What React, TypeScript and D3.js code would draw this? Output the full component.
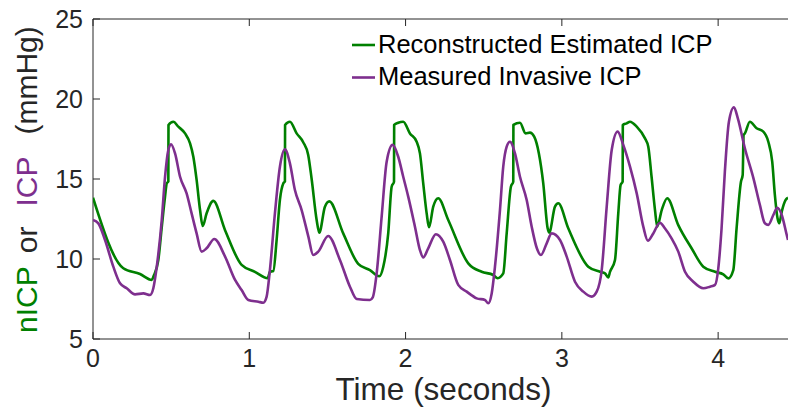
import React from "react";
import * as d3 from "d3";

// ---- Data (time in seconds, pressure in mmHg) ----
const estTime = [0.0, 0.194, 0.301, 0.376, 0.388, 0.418, 0.44, 0.461, 0.472, 0.482, 0.483, 0.514, 0.546, 0.589, 0.621, 0.642, 0.663, 0.685, 0.702, 0.727, 0.77, 0.845, 0.951, 1.036, 1.118, 1.132, 1.154, 1.175, 1.196, 1.218, 1.228, 1.229, 1.26, 1.303, 1.345, 1.377, 1.399, 1.431, 1.448, 1.484, 1.512, 1.601, 1.697, 1.772, 1.832, 1.857, 1.889, 1.911, 1.926, 1.927, 1.953, 1.985, 2.028, 2.071, 2.092, 2.113, 2.135, 2.15, 2.177, 2.209, 2.273, 2.401, 2.487, 2.561, 2.589, 2.625, 2.647, 2.674, 2.689, 2.69, 2.732, 2.768, 2.796, 2.823, 2.853, 2.881, 2.909, 2.919, 2.956, 2.977, 3.041, 3.169, 3.244, 3.276, 3.297, 3.308, 3.34, 3.361, 3.376, 3.389, 3.39, 3.415, 3.436, 3.479, 3.532, 3.553, 3.574, 3.596, 3.61, 3.639, 3.674, 3.745, 3.83, 3.905, 3.98, 4.033, 4.065, 4.097, 4.118, 4.146, 4.157, 4.163, 4.171, 4.203, 4.246, 4.289, 4.321, 4.346, 4.363, 4.38, 4.391, 4.407, 4.432, 4.447];
const estValue = [13.83, 9.42, 9.06, 8.69, 8.94, 9.94, 12.0, 13.9, 14.73, 14.84, 18.38, 18.58, 18.27, 17.85, 17.23, 16.39, 14.94, 13.06, 12.06, 12.86, 13.63, 11.8, 9.63, 9.2, 8.8, 9.2, 9.25, 11.2, 13.7, 14.73, 14.84, 18.38, 18.58, 17.85, 17.3, 16.5, 15.0, 12.44, 11.65, 13.27, 13.6, 11.6, 9.7, 9.3, 8.92, 9.5, 11.6, 14.52, 14.83, 18.38, 18.52, 18.58, 17.85, 17.33, 16.6, 14.73, 12.85, 11.98, 13.27, 13.8, 12.44, 9.73, 9.2, 9.0, 8.8, 9.1, 11.6, 14.52, 14.83, 18.38, 18.52, 17.85, 17.9, 17.65, 16.6, 14.73, 11.92, 11.65, 13.27, 13.48, 11.92, 9.52, 9.2, 9.1, 8.85, 9.2, 9.94, 12.85, 14.63, 14.83, 18.38, 18.48, 18.58, 18.27, 17.54, 17.02, 15.14, 13.06, 12.02, 13.06, 13.8, 12.12, 10.67, 9.52, 9.2, 9.04, 8.79, 9.31, 11.92, 14.83, 15.25, 17.75, 17.85, 18.58, 18.17, 17.96, 17.33, 16.08, 14.0, 12.54, 12.23, 12.96, 13.69, 13.83];

const measTime = [0.0, 0.034, 0.077, 0.13, 0.173, 0.216, 0.269, 0.322, 0.365, 0.386, 0.408, 0.44, 0.461, 0.482, 0.499, 0.525, 0.557, 0.599, 0.631, 0.663, 0.695, 0.727, 0.776, 0.845, 0.909, 0.951, 0.994, 1.058, 1.09, 1.111, 1.132, 1.164, 1.196, 1.228, 1.26, 1.292, 1.335, 1.378, 1.409, 1.441, 1.505, 1.58, 1.644, 1.687, 1.772, 1.79, 1.815, 1.847, 1.879, 1.917, 1.953, 1.985, 2.017, 2.06, 2.092, 2.113, 2.145, 2.194, 2.241, 2.284, 2.337, 2.391, 2.455, 2.508, 2.529, 2.551, 2.572, 2.604, 2.625, 2.647, 2.668, 2.7, 2.732, 2.775, 2.807, 2.84, 2.866, 2.903, 2.935, 2.988, 3.031, 3.084, 3.137, 3.191, 3.223, 3.255, 3.287, 3.319, 3.357, 3.393, 3.436, 3.479, 3.521, 3.55, 3.585, 3.627, 3.659, 3.702, 3.745, 3.788, 3.841, 3.905, 3.948, 3.98, 4.001, 4.022, 4.043, 4.069, 4.101, 4.126, 4.171, 4.226, 4.267, 4.299, 4.321, 4.353, 4.378, 4.407, 4.439, 4.447];
const measValue = [12.44, 12.23, 11.19, 9.52, 8.48, 8.17, 7.79, 7.85, 7.75, 8.17, 9.52, 12.44, 15.14, 16.81, 17.17, 16.6, 15.14, 14.1, 12.85, 11.6, 10.46, 10.67, 11.25, 10.15, 8.69, 8.06, 7.44, 7.33, 7.27, 7.65, 9.31, 12.85, 15.77, 16.85, 15.98, 14.31, 13.06, 11.4, 10.25, 10.46, 11.44, 9.94, 8.27, 7.5, 7.44, 7.6, 9.1, 12.65, 16.08, 17.13, 16.39, 15.14, 13.9, 12.02, 10.56, 10.1, 10.67, 11.55, 11.08, 9.94, 8.38, 7.96, 7.54, 7.44, 7.23, 7.85, 9.52, 13.06, 15.77, 17.02, 17.33, 16.6, 15.14, 13.69, 12.02, 10.67, 10.25, 10.98, 11.6, 11.19, 10.15, 8.58, 7.96, 7.65, 7.96, 9.31, 13.27, 16.81, 17.96, 17.13, 15.77, 14.1, 12.02, 11.15, 11.6, 12.27, 11.92, 11.29, 10.46, 9.2, 8.58, 8.17, 8.27, 8.38, 9.42, 11.92, 15.46, 18.58, 19.48, 18.79, 16.92, 15.04, 13.38, 12.23, 12.13, 12.75, 13.2, 12.75, 11.5, 11.19];

const xTicks = [0, 1, 2, 3, 4];
const yTicks = [5, 10, 15, 20, 25];
const legendLabels = ["Reconstructed Estimated ICP", "Measured Invasive ICP"];

const W = 788;
const H = 411;
const GREEN = "#008000";
const PURPLE = "#7E2F8E";
const AXIS = "#262626";
const FONT = "'Liberation Sans', Arial, Helvetica, sans-serif";

export default function App() {
  const left = 93, right = 788, top = 19, bottom = 339;
  const x = d3.scaleLinear().domain([0, 4.447]).range([left, right]);
  const y = d3.scaleLinear().domain([5, 25]).range([bottom, top]);

  const line = d3
    .line<[number, number]>()
    .x((d) => x(d[0]))
    .y((d) => y(d[1]))
    .curve(d3.curveMonotoneX);

  const est: [number, number][] = estTime.map((t, i) => [t, estValue[i]]);
  const meas: [number, number][] = measTime.map((t, i) => [t, measValue[i]]);
  const tickLen = 7;

  return (
    <svg
      width={W}
      height={H}
      style={{ position: "absolute", left: 0, top: 0, background: "#fff" }}
      fontFamily={FONT}
    >
      <defs>
        <clipPath id="plotclip">
          <rect x={left} y={top - 2} width={right - left} height={bottom - top + 4} />
        </clipPath>
      </defs>
      {/* axes frame */}
      <line x1={left} x2={right} y1={bottom} y2={bottom} stroke={AXIS} strokeWidth={1} />
      <line x1={left} x2={right} y1={top} y2={top} stroke={AXIS} strokeWidth={1} />
      <line x1={left} x2={left} y1={top} y2={bottom} stroke={AXIS} strokeWidth={1} />
      {xTicks.map((t) => (
        <g key={"xt" + t}>
          <line x1={x(t)} x2={x(t)} y1={bottom} y2={bottom - tickLen} stroke={AXIS} />
          <line x1={x(t)} x2={x(t)} y1={top} y2={top + tickLen} stroke={AXIS} />
          <text x={x(t)} y={367} textAnchor="middle" fontSize={25} fill={AXIS}>
            {t}
          </text>
        </g>
      ))}
      {yTicks.map((t) => (
        <g key={"yt" + t}>
          <line x1={left} x2={left + tickLen} y1={y(t)} y2={y(t)} stroke={AXIS} />
          <text x={83} y={y(t) + 9} textAnchor="end" fontSize={25} fill={AXIS}>
            {t}
          </text>
        </g>
      ))}
      {/* series */}
      <g clipPath="url(#plotclip)">
        <path d={line(est) || ""} fill="none" stroke={GREEN} strokeWidth={2.6} strokeLinejoin="round" />
        <path d={line(meas) || ""} fill="none" stroke={PURPLE} strokeWidth={2.6} strokeLinejoin="round" />
      </g>
      {/* axis labels */}
      <text x={(left + right) / 2 + 3} y={400} textAnchor="middle" fontSize={31.5} fill={AXIS}>
        Time (seconds)
      </text>
      <text transform="translate(37,333) rotate(-90)" fontSize={30} fill={AXIS} textAnchor="start">
        <tspan fill={GREEN}>nICP</tspan>
        <tspan dx={13}>or</tspan>
        <tspan dx={20} fill={PURPLE}>ICP</tspan>
        <tspan dx={22}>(mmHg)</tspan>
      </text>
      {/* legend */}
      {legendLabels.map((lab, i) => (
        <g key={lab}>
          <line
            x1={352}
            x2={375}
            y1={45 + i * 32.5}
            y2={45 + i * 32.5}
            stroke={i === 0 ? GREEN : PURPLE}
            strokeWidth={2.6}
          />
          <text x={378} y={52.5 + i * 32.5} fontSize={25.5} fill="#000">
            {lab}
          </text>
        </g>
      ))}
    </svg>
  );
}
